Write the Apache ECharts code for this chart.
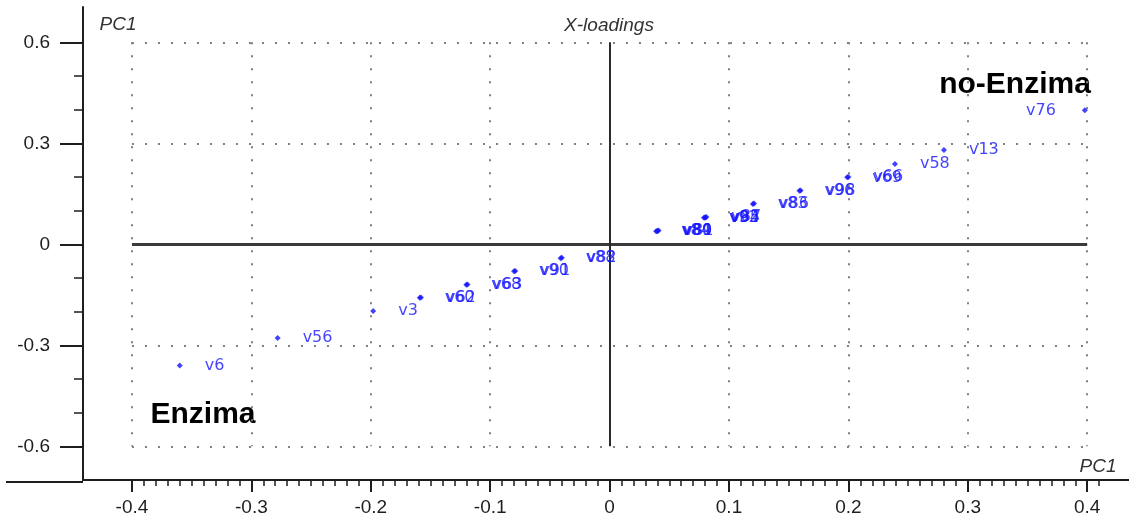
<!DOCTYPE html>
<html>
<head>
<meta charset="utf-8">
<title>X-loadings</title>
<script src="https://cdn.jsdelivr.net/npm/echarts@6/dist/echarts.min.js"></script>
<style>
  html, body { margin: 0; padding: 0; background: #ffffff; }
  #chart { width: 1129px; height: 517px; }
</style>
</head>
<body>
<div id="chart"></div>
<script>
// PC1 loadings of each variable (plotted PC1 against PC1, so they fall on the diagonal)
const varNames = [
  'v6', 'v56', 'v3',
  'v60', 'v62',
  'v63', 'v68',
  'v90', 'v91',
  'v82', 'v88',
  'v80', 'v81', 'v84', 'v89',
  'v85', 'v87', 'v92', 'v94',
  'v83', 'v86',
  'v98', 'v96',
  'v66', 'v69',
  'v58', 'v13', 'v76'
];
const pc1Loadings = [
  -0.360, -0.278, -0.198,
  -0.159, -0.158,
  -0.119, -0.120,
  -0.080, -0.079,
  -0.040, -0.041,
  0.040, 0.041, 0.039, 0.040,
  0.080, 0.081, 0.079, 0.080,
  0.120, 0.121,
  0.160, 0.159,
  0.200, 0.199,
  0.239, 0.280, 0.398
];
// variables whose label sits on the left of the point
const leftLabelled = ['v76'];

// axis tick values
const xTickLabels = [-0.4, -0.3, -0.2, -0.1, 0, 0.1, 0.2, 0.3, 0.4];
const yTickLabels = [-0.6, -0.3, 0, 0.3, 0.6];

const xMinor = [];
for (let i = -40; i <= 41; i++) xMinor.push(i / 100);
const yMinor = [];
for (let i = -6; i <= 6; i++) yMinor.push(i / 10);

const fmt = v => String(+v.toFixed(2));

// dotted reference grid bounded by the outer ticks
const gxMin = -0.4, gxMax = 0.4, gyMin = -0.6, gyMax = 0.6;
const dottedSegments = [];
xTickLabels.forEach(x => {
  if (x !== 0) dottedSegments.push([{ coord: [x, gyMax] }, { coord: [x, gyMin] }]);
});
yTickLabels.forEach(y => {
  if (y !== 0) dottedSegments.push([{ coord: [gxMin, y] }, { coord: [gxMax, y] }]);
});

const pointData = varNames.map((n, i) => ({
  name: n,
  value: [pc1Loadings[i], pc1Loadings[i]],
  label: leftLabelled.includes(n) ? { position: 'left', distance: 26 } : undefined
}));

const axisColor = '#1e1e1e';
const labelFont = { fontFamily: 'Liberation Sans, Arial, sans-serif', fontSize: 19, color: '#1e1e1e' };

const chart = echarts.init(document.getElementById('chart'), null, { renderer: 'canvas' });

chart.setOption({
  animation: false,
  backgroundColor: '#ffffff',
  grid: { left: 83, right: 0, top: 7, bottom: 35, containLabel: false },
  xAxis: [
    {
      type: 'value', min: -0.441, max: 0.435, position: 'bottom',
      axisLine: { show: true, onZero: false, lineStyle: { color: axisColor, width: 2 } },
      axisTick: { show: true, customValues: xTickLabels, length: 12, lineStyle: { color: axisColor, width: 2 } },
      axisLabel: Object.assign({ customValues: xTickLabels, margin: 18, formatter: fmt }, labelFont),
      splitLine: { show: false }
    },
    {
      type: 'value', min: -0.441, max: 0.435, position: 'bottom',
      axisLine: { show: false, onZero: false },
      axisTick: { show: true, customValues: xMinor, length: 6, lineStyle: { color: axisColor, width: 1.5 } },
      axisLabel: { show: false },
      splitLine: { show: false }
    }
  ],
  yAxis: [
    {
      type: 'value', min: -0.70, max: 0.705, position: 'left',
      axisLine: { show: true, onZero: false, lineStyle: { color: axisColor, width: 2 } },
      axisTick: { show: true, customValues: yTickLabels, length: 23, lineStyle: { color: axisColor, width: 2 } },
      axisLabel: Object.assign({ customValues: yTickLabels, margin: 33, formatter: fmt }, labelFont),
      splitLine: { show: false }
    },
    {
      type: 'value', min: -0.70, max: 0.705, position: 'left',
      axisLine: { show: false, onZero: false },
      axisTick: { show: true, customValues: yMinor, length: 9, lineStyle: { color: axisColor, width: 1.5 } },
      axisLabel: { show: false },
      splitLine: { show: false }
    }
  ],
  series: [
    {
      // dotted grid
      type: 'scatter', data: [], silent: true, z: 1,
      markLine: {
        silent: true, symbol: 'none', animation: false,
        label: { show: false },
        lineStyle: { color: '#7f7f7f', width: 2, type: [2, 11], cap: 'butt' },
        data: dottedSegments
      }
    },
    {
      // zero lines
      type: 'scatter', data: [], silent: true, z: 2,
      markLine: {
        silent: true, symbol: 'none', animation: false,
        label: { show: false },
        data: [
          [{ coord: [gxMin, 0], lineStyle: { color: '#3a3a3a', width: 3, type: 'solid' } }, { coord: [gxMax, 0] }],
          [{ coord: [0, gyMax], lineStyle: { color: '#2a2a2a', width: 2, type: 'solid' } }, { coord: [0, gyMin] }]
        ]
      }
    },
    {
      type: 'scatter', z: 5,
      symbol: 'diamond', symbolSize: 6,
      itemStyle: { color: '#1414ff' },
      label: {
        show: true, position: 'right', distance: 22,
        formatter: '{b}',
        color: '#1414ff', fontFamily: 'DejaVu Sans, sans-serif', fontSize: 16
      },
      labelLayout: { hideOverlap: false },
      data: pointData
    }
  ],
  graphic: [
    { type: 'line', silent: true, shape: { x1: 6, y1: 482, x2: 83, y2: 482 }, style: { stroke: axisColor, lineWidth: 2 } },
    { type: 'text', silent: true, style: { text: 'PC1', x: 118, y: 25, align: 'center', verticalAlign: 'middle',
      font: 'italic 19px "Liberation Sans", Arial, sans-serif', fill: '#333333' } },
    { type: 'text', silent: true, style: { text: 'X-loadings', x: 609, y: 26, align: 'center', verticalAlign: 'middle',
      font: 'italic 19px "Liberation Sans", Arial, sans-serif', fill: '#333333' } },
    { type: 'text', silent: true, style: { text: 'PC1', x: 1098, y: 467, align: 'center', verticalAlign: 'middle',
      font: 'italic 19px "Liberation Sans", Arial, sans-serif', fill: '#333333' } },
    { type: 'text', silent: true, style: { text: 'no-Enzima', x: 1015, y: 85, align: 'center', verticalAlign: 'middle',
      font: 'bold 30px "Liberation Sans", Arial, sans-serif', fill: '#000000' } },
    { type: 'text', silent: true, style: { text: 'Enzima', x: 203, y: 415, align: 'center', verticalAlign: 'middle',
      font: 'bold 30px "Liberation Sans", Arial, sans-serif', fill: '#000000' } }
  ]
});
</script>
</body>
</html>
